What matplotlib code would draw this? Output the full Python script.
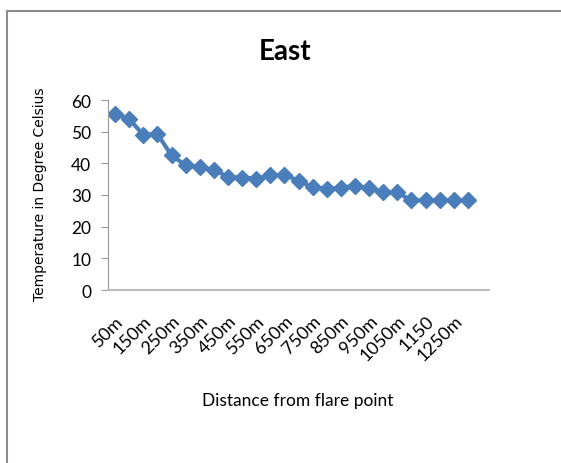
import matplotlib.pyplot as plt
from matplotlib.patches import Rectangle

plt.rcParams['font.family'] = ['Lato', 'DejaVu Sans']

distances = [f"{d}m" for d in range(50, 1350, 50)]
temps = [55.5, 54.0, 49.0, 49.3, 42.5, 39.4, 38.7, 38.0, 35.7, 35.5, 35.2,
         36.2, 36.4, 34.5, 32.4, 32.0, 32.2, 33.0, 32.2, 30.8, 30.8, 28.3,
         28.3, 28.3, 28.3, 28.3]
tick_labels = ["50m", "150m", "250m", "350m", "450m", "550m", "650m",
               "750m", "850m", "950m", "1050m", "1150", "1250m"]

fig = plt.figure(figsize=(5.61, 4.64), dpi=100)
# outer chart border
fig.patches.append(Rectangle((7 / 561, -0.05), 1.1, 1 - 12 / 464 + 0.05,
                             transform=fig.transFigure, fill=False,
                             edgecolor='#8c8c8c', linewidth=1.5))

ax = fig.add_axes([108 / 561, 173 / 464, 381 / 561, 190 / 464])
x = list(range(len(temps)))
ax.plot(x, temps, color='#4a7ebb', linewidth=3, marker='D',
        markersize=8, markerfacecolor='#4a7ebb', markeredgecolor='#4a7ebb')

ax.set_xlim(-0.5, 26.5)
ax.set_ylim(0, 60)
ax.set_yticks(range(0, 61, 10))
ax.set_xticks(x[::2])
ax.set_xticklabels(tick_labels, rotation=45, ha='right', rotation_mode='anchor',
                   fontsize=13)
ax.tick_params(axis='x', length=0, pad=16)
ax.tick_params(axis='y', length=5, color='#999999', labelsize=12.5, pad=7)

for s in ('top', 'right'):
    ax.spines[s].set_visible(False)
ax.spines['left'].set_color('#999999')
ax.spines['bottom'].set_color('#bbbbbb')
ax.spines['bottom'].set_linewidth(1.5)

fig.text(285 / 561, 1 - 52 / 464, "East", ha='center', va='center',
         fontsize=20, fontweight='bold')
fig.text(40 / 561, 1 - 194 / 464, "Temperature in Degree Celsius", rotation=90,
         ha='center', va='center', fontsize=10,
         family=['DejaVu Sans'])
fig.text(298 / 561, 1 - 401 / 464, "Distance from flare point", ha='center',
         va='center', fontsize=12.5)

fig.savefig('out.png', dpi=100)
